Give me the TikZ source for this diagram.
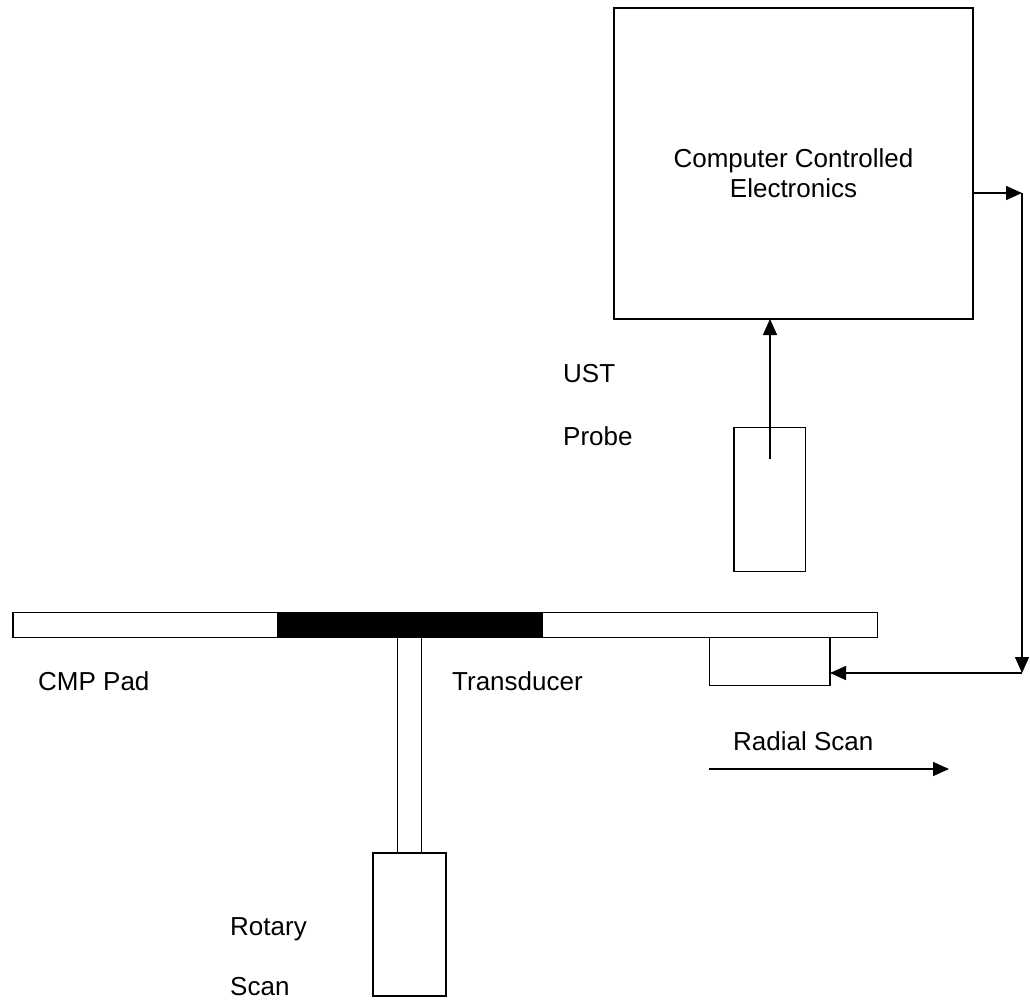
\documentclass[tikz,border=0pt]{standalone}
\usepackage{fontspec}
\setmainfont{Liberation Sans}
\usetikzlibrary{arrows.meta}
\begin{document}
\begin{tikzpicture}[x=1pt,y=-1pt,
  box/.style={draw=black,line width=1.5pt,inner sep=0pt,outer sep=0pt,anchor=north west},
  lbl/.style={inner sep=0pt,anchor=base west,font=\fontsize{26}{30}\selectfont},
  arr/.style={line width=1.5pt,-{Triangle[length=16pt,width=14pt]}}]
\useasboundingbox (0,0) rectangle (1030,999);
% computer box
\node[box,minimum width=359pt,minimum height=311pt] (comp) at (614,8) {};
\node[inner sep=0pt,anchor=base,align=center,font=\fontsize{26}{30}\selectfont] (ctext) at (793.5,197) {Computer Controlled\\Electronics};
% probe
\node[box,minimum width=71.7pt,minimum height=144pt] (probe) at (734,427.7) {};
\node[lbl] (ust) at (563,382.7) {UST};
\node[lbl] (probetxt) at (563,445) {Probe};
% pad
\node[box,line width=1.3pt,minimum width=864.7pt,minimum height=25pt] (pad) at (13,612.7) {};
\node[box,line width=0.8pt,fill=black,minimum width=265.4pt,minimum height=25pt] (black) at (277.3,612.7) {};
% stem and rotary
\node[box,minimum width=24pt,minimum height=215.3pt] (stem) at (397.7,637.7) {};
\node[box,minimum width=73pt,minimum height=143pt] (rot) at (373,853) {};
% transducer
\node[box,minimum width=120.7pt,minimum height=47.8pt] (trans) at (709.3,637.7) {};
% labels
\node[lbl] (cmp) at (38,690) {CMP Pad};
\node[lbl] (ttxt) at (452,690) {Transducer};
\node[lbl] (rtxt) at (733,750.7) {Radial Scan};
\node[lbl] (rotary) at (230,935) {Rotary};
\node[lbl] (scan) at (230,995) {Scan};
% arrows
\coordinate (pstart) at (770,459);
\draw[arr] (pstart) -- (pstart |- comp.south);
\coordinate (c1) at (1022,193);
\coordinate (c2) at (1022,673);
\draw[arr] (comp.east |- c1) -- (c1);
\draw[arr] (c1) -- (c2);
\draw[arr] (c2) -- (trans.east |- c2);
\coordinate (r1) at (709,769);
\coordinate (r2) at (949,769);
\draw[arr] (r1) -- (r2);
\end{tikzpicture}
\end{document}
